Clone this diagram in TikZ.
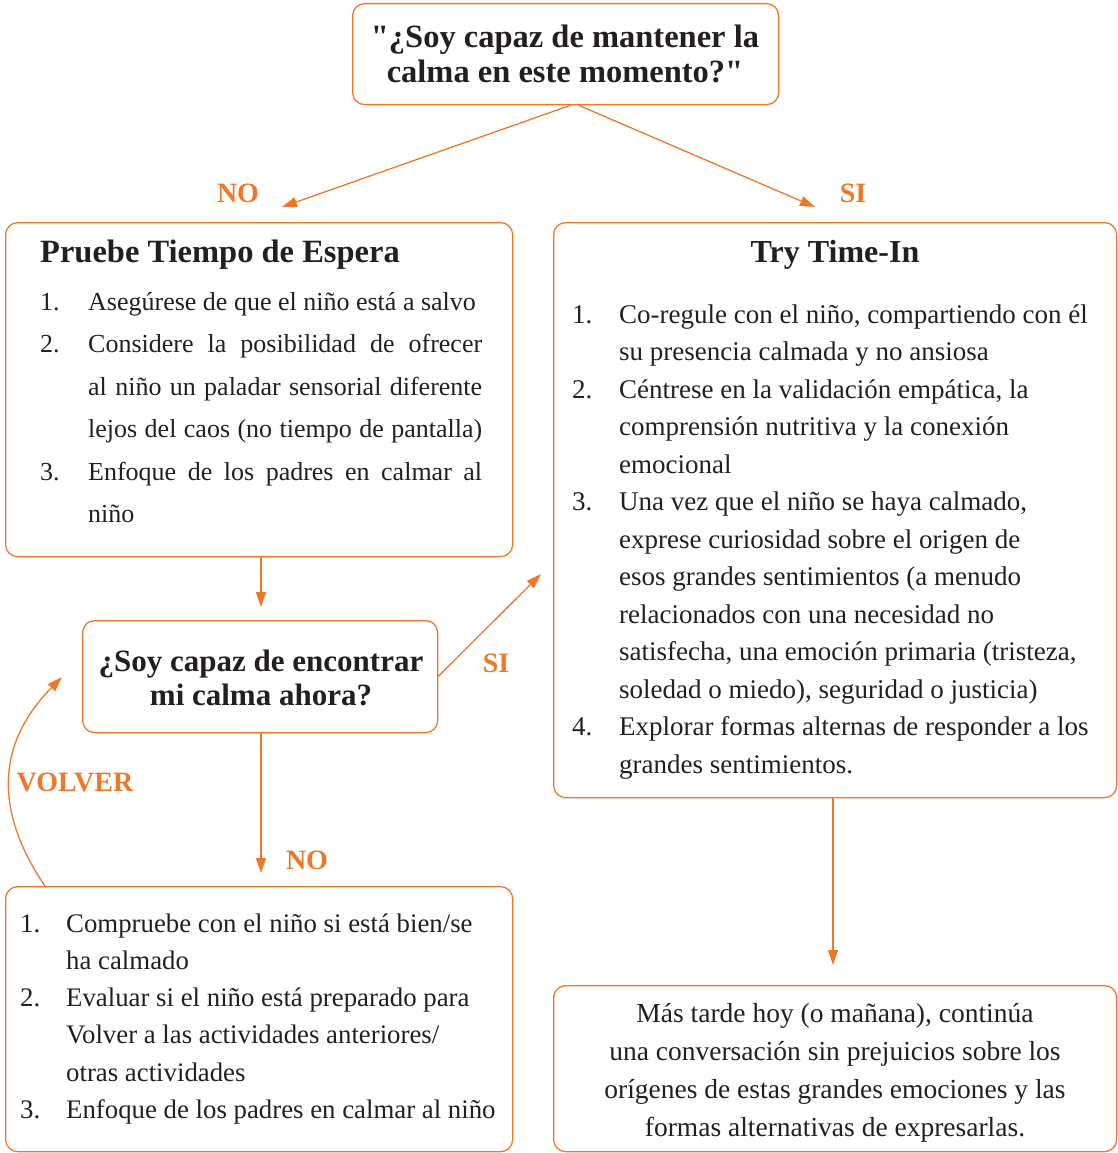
\documentclass[tikz,border=0pt]{standalone}
\usepackage{fontspec}
\setmainfont{Liberation Serif}[Ligatures=TeXOff]
\usetikzlibrary{arrows.meta}
\definecolor{org}{RGB}{241,119,40}
\definecolor{ink}{RGB}{35,31,32}
\tikzset{
  box/.style={draw=org, line width=1.3pt, rounded corners=12pt, anchor=north west, inner sep=0pt, rectangle},
  conn/.style={draw=org, line width=1.3pt, -{Triangle[length=15pt,width=10pt]}},
  lbl/.style={text=org, font=\fontsize{28}{30}\selectfont\bfseries, inner sep=0pt},
  txt/.style={text=ink, anchor=base west, inner sep=0pt},
  ctxt/.style={text=ink, anchor=base, inner sep=0pt, align=center},
}
\newcommand{\jl}[1]{\makebox[394pt][s]{#1}}
\begin{document}
\begin{tikzpicture}[x=1pt,y=-1pt]
\useasboundingbox (0,0) rectangle (1117,1153);
% boxes
\node[box, minimum width=426pt, minimum height=101pt] (top) at (352,3) {};
\node[box, minimum width=507pt, minimum height=334pt] (left) at (5,222) {};
\node[box, minimum width=563pt, minimum height=575pt] (right) at (553,222) {};
\node[box, minimum width=355pt, minimum height=112pt] (mid) at (82,620) {};
\node[box, minimum width=507pt, minimum height=265pt] (bl) at (5,886) {};
\node[box, minimum width=563pt, minimum height=166pt] (br) at (553,985) {};
% top text
\node[ctxt, font=\fontsize{32.5}{35}\selectfont\bfseries] (toptext) at (565,83)
  {"¿Soy capaz de mantener la\\calma en este momento?"};
% left box
\node[txt, font=\fontsize{32.5}{34}\selectfont\bfseries] (lefttitle) at (40,262) {Pruebe Tiempo de Espera};
\node[txt, font=\fontsize{26}{42.5}\selectfont] (lefttext) at (40,310) {%
\begin{tabular}[t]{@{}p{48pt}@{}l@{}}
1. & Asegúrese de que el niño está a salvo\\
2. & \jl{Considere la posibilidad de ofrecer}\\
   & \jl{al niño un paladar sensorial diferente}\\
   & \jl{lejos del caos (no tiempo de pantalla)}\\
3. & \jl{Enfoque de los padres en calmar al}\\
   & niño
\end{tabular}};
% right box
\node[ctxt, font=\fontsize{32}{34}\selectfont\bfseries] (righttitle) at (835,262) {Try Time-In};
\node[txt, font=\fontsize{27}{37.5}\selectfont] (righttext) at (572,323) {%
\begin{tabular}[t]{@{}p{47pt}@{}l@{}}
1. & Co-regule con el niño, compartiendo con él\\
   & su presencia calmada y no ansiosa\\
2. & Céntrese en la validación empática, la\\
   & comprensión nutritiva y la conexión\\
   & emocional\\
3. & Una vez que el niño se haya calmado,\\
   & exprese curiosidad sobre el origen de\\
   & esos grandes sentimientos (a menudo\\
   & relacionados con una necesidad no\\
   & satisfecha, una emoción primaria (tristeza,\\
   & soledad o miedo), seguridad o justicia)\\
4. & Explorar formas alternas de responder a los\\
   & grandes sentimientos.
\end{tabular}};
% middle box
\node[ctxt, font=\fontsize{31}{34}\selectfont\bfseries] (midtext) at (261,705)
  {¿Soy capaz de encontrar\\mi calma ahora?};
% bottom left
\node[txt, font=\fontsize{26.8}{37.3}\selectfont] (bltext) at (20,932) {%
\begin{tabular}[t]{@{}p{46pt}@{}l@{}}
1. & Compruebe con el niño si está bien/se\\
   & ha calmado\\
2. & Evaluar si el niño está preparado para\\
   & Volver a las actividades anteriores/\\
   & otras actividades\\
3. & Enfoque de los padres en calmar al niño
\end{tabular}};
% bottom right
\node[ctxt, font=\fontsize{27.5}{37.7}\selectfont] (brtext) at (835,1136)
  {Más tarde hoy (o mañana), continúa\\una conversación sin prejuicios sobre los\\orígenes de estas grandes emociones y las\\formas alternativas de expresarlas.};
% connectors
\coordinate (noend) at (282,207);
\coordinate (siend) at (815,207);
\coordinate (midin) at (261,607);
\coordinate (siend2) at (541,574);
\coordinate (noend2) at (261,873);
\coordinate (volend) at (62,677);
\coordinate (brin) at (833,965);
\draw[conn] ([xshift=5pt]top.south) -- (noend);
\draw[conn] ([xshift=13pt]top.south) -- (siend);
\draw[conn] (left.south -| midin) -- (midin);
\draw[conn] ([yshift=57pt]mid.south east) -- (siend2);
\draw[conn] (mid.south -| noend2) -- (noend2);
\draw[conn] (bl.north west) ++(40,0) .. controls (0,820) and (-10,750) .. (volend);
\draw[conn] (right.south -| brin) -- (brin);
% labels
\node[lbl] (lno1) at (238,193) {NO};
\node[lbl] (lsi1) at (853,193) {SI};
\node[lbl] (lsi2) at (496,663) {SI};
\node[lbl] (lno2) at (307,860) {NO};
\node[lbl] (lvol) at (75,782) {VOLVER};
\end{tikzpicture}
\end{document}
